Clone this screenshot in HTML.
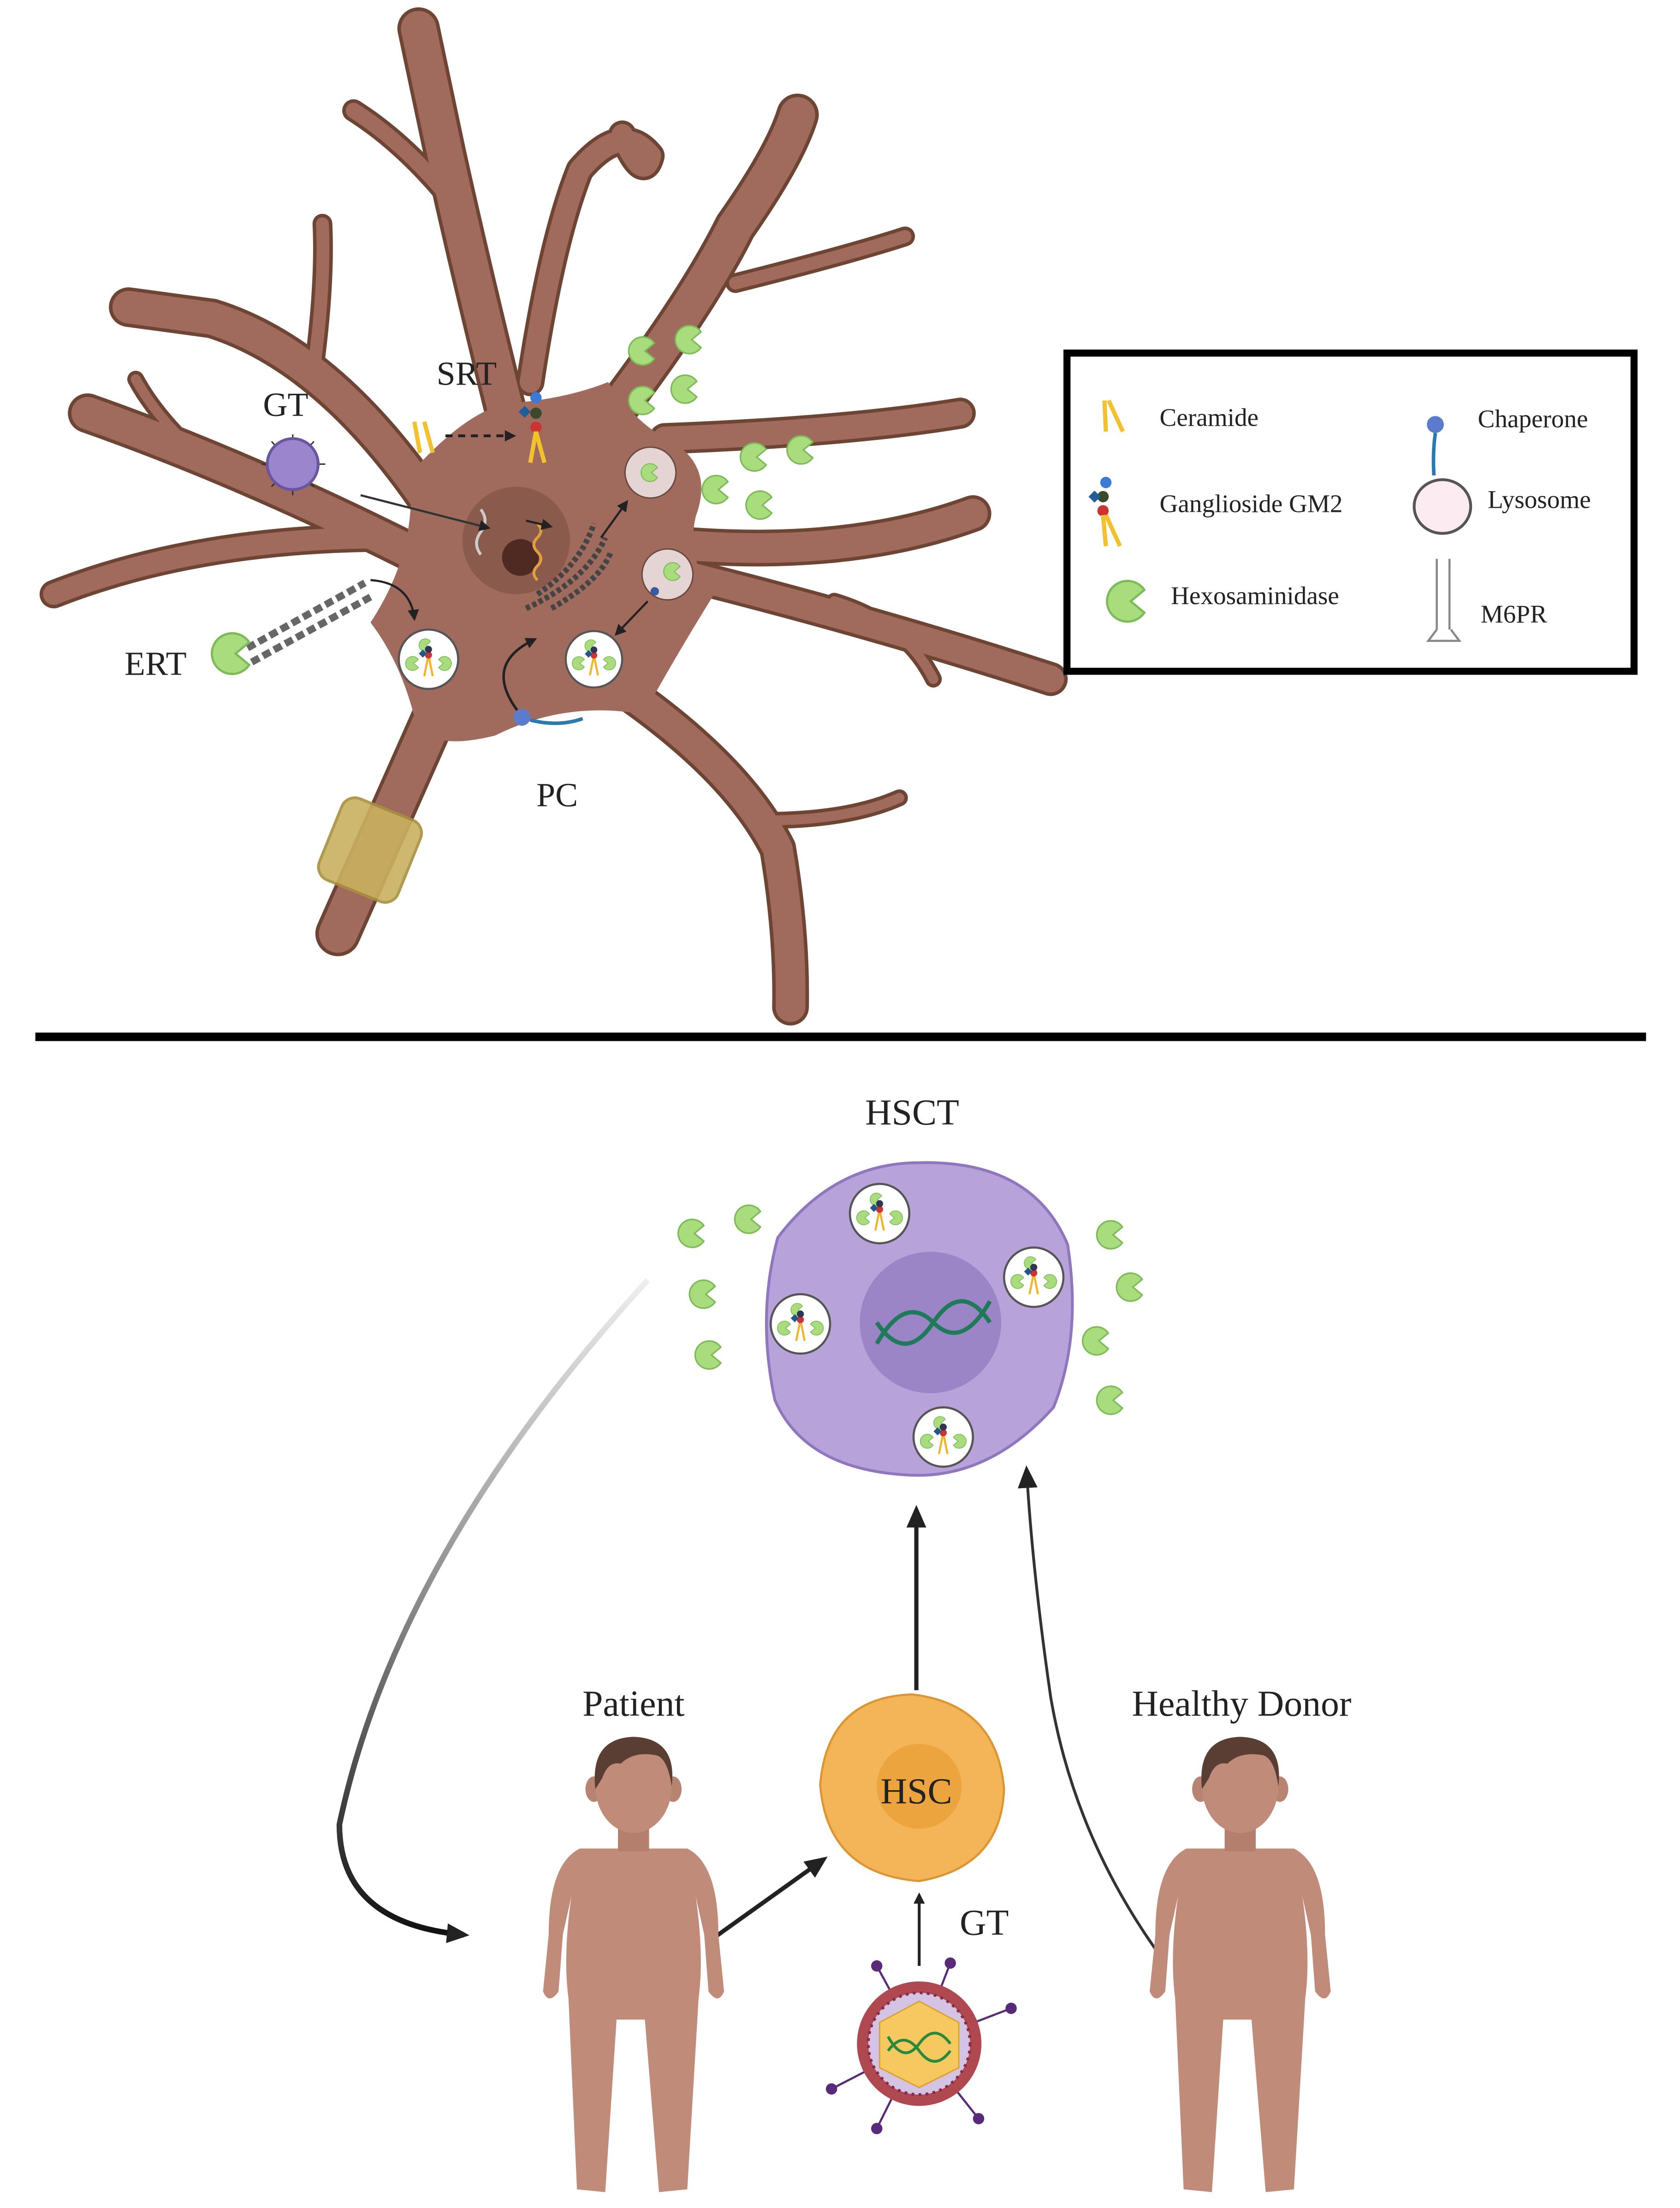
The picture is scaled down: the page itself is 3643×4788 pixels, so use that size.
<!DOCTYPE html>
<html><head><meta charset="utf-8"><style>html,body{margin:0;padding:0;background:#fff}svg{display:block}</style></head>
<body>
<svg width="3643" height="4788" viewBox="0 0 1188 1561" xmlns="http://www.w3.org/2000/svg" font-family="Liberation Serif, serif">
<defs>
<g id="pac"><path d="M7,-5 A9,9 0 1 0 7,5 L1,0 Z" fill="#a9dc7c" stroke="#7dbb58" stroke-width="1"/></g>
<marker id="ah" markerWidth="8" markerHeight="8" refX="6" refY="4" orient="auto" markerUnits="userSpaceOnUse"><path d="M0,0 L8,4 L0,8 Z" fill="#222"/></marker>
<marker id="ahb" markerWidth="16" markerHeight="14" refX="12" refY="7" orient="auto" markerUnits="userSpaceOnUse"><path d="M0,0 L16,7 L0,14 Z" fill="#222"/></marker>
<linearGradient id="gr" x1="0" y1="0" x2="0" y2="1"><stop offset="0" stop-color="#eee"/><stop offset="0.5" stop-color="#888"/><stop offset="1" stop-color="#111"/></linearGradient>
<g id="lyso"><circle r="21" fill="#fff" stroke="#555" stroke-width="1.5"/><use href="#pac" transform="translate(-11,3) scale(0.55)"/><use href="#pac" transform="translate(11,3) scale(-0.55,0.55)"/><use href="#pac" transform="translate(-2,-10) scale(0.5)"/><path d="M0,-3 L-3,12 M0,-3 L3,12" stroke="#f0b530" stroke-width="1.5"/><circle cx="0" cy="-3" r="2.5" fill="#c33"/><circle cx="0" cy="-7" r="2.5" fill="#335"/><rect x="-6" y="-6" width="4" height="4" fill="#258" transform="rotate(45 -4 -4)"/></g>
<g id="baby">
<path d="M-38,44 Q-60,55 -60,105 L-64,145 Q-60,155 -53,145 L-50,105 L-44,78 Q-50,120 -46,150 L-40,285 L-20,287 L-12,165 L-2,165 L8,165 L18,287 L38,285 L46,150 Q50,120 44,78 L50,105 L53,145 Q60,155 64,145 L60,105 Q60,55 38,44 Z" fill="#c08b79"/>
<path d="M-11,28 L-11,46 L11,46 L11,28 Z" fill="#b57f6e"/>
<ellipse cx="-28" cy="2" rx="6" ry="9" fill="#b98372"/><ellipse cx="28" cy="2" rx="6" ry="9" fill="#b98372"/>
<ellipse cx="0" cy="0" rx="27" ry="33" fill="#c08b79"/>
<path d="M-27,2 Q-31,-34 0,-35 Q31,-34 27,0 Q24,-20 16,-22 Q0,-25 -9,-16 Q-18,-18 -22,-6 Z" fill="#5a3e33"/>
</g>
</defs>
<rect width="1188" height="1561" fill="#fff"/>

<!-- neuron -->
<g stroke-linecap="round" stroke-linejoin="round" fill="none">
<g stroke="#6e4535">
<path d="M360,300 Q335,200 315,110 L296,20" stroke-width="30"/>
<path d="M318,140 Q285,100 250,78" stroke-width="16"/>
<path d="M375,270 Q390,170 410,120 Q440,85 460,110 Q455,130 440,95" stroke-width="20"/>
<path d="M300,350 Q230,250 150,225 L91,217" stroke-width="28"/>
<path d="M222,260 Q230,200 228,158" stroke-width="14"/>
<path d="M290,390 Q170,330 62,292" stroke-width="28"/>
<path d="M130,312 Q108,290 96,268" stroke-width="12"/>
<path d="M275,380 Q140,380 38,420" stroke-width="20"/>
<path d="M420,310 Q490,220 520,160 Q555,110 564,81" stroke-width="30"/>
<path d="M520,200 Q600,180 640,167" stroke-width="14"/>
<path d="M470,310 Q600,305 679,292" stroke-width="22"/>
<path d="M480,385 Q600,395 688,363" stroke-width="26"/>
<path d="M480,405 Q620,440 743,480" stroke-width="24"/>
<path d="M590,425 Q640,440 660,480" stroke-width="12"/>
<path d="M430,480 Q520,540 550,600 Q560,660 559,712" stroke-width="26"/>
<path d="M540,580 Q600,580 636,564" stroke-width="12"/>
<path d="M310,500 L239,660" stroke-width="32"/>
</g>
<g stroke="#a06b5c">
<path d="M360,300 Q335,200 315,110 L296,20" stroke-width="25"/>
<path d="M318,140 Q285,100 250,78" stroke-width="11"/>
<path d="M375,270 Q390,170 410,120 Q440,85 460,110 Q455,130 440,95" stroke-width="15"/>
<path d="M300,350 Q230,250 150,225 L91,217" stroke-width="23"/>
<path d="M222,260 Q230,200 228,158" stroke-width="9"/>
<path d="M290,390 Q170,330 62,292" stroke-width="23"/>
<path d="M130,312 Q108,290 96,268" stroke-width="7"/>
<path d="M275,380 Q140,380 38,420" stroke-width="15"/>
<path d="M420,310 Q490,220 520,160 Q555,110 564,81" stroke-width="25"/>
<path d="M520,200 Q600,180 640,167" stroke-width="9"/>
<path d="M470,310 Q600,305 679,292" stroke-width="17"/>
<path d="M480,385 Q600,395 688,363" stroke-width="21"/>
<path d="M480,405 Q620,440 743,480" stroke-width="19"/>
<path d="M590,425 Q640,440 660,480" stroke-width="7"/>
<path d="M430,480 Q520,540 550,600 Q560,660 559,712" stroke-width="21"/>
<path d="M540,580 Q600,580 636,564" stroke-width="7"/>
<path d="M310,500 L239,660" stroke-width="27"/>
</g>
</g>
<path d="M262,440 Q295,390 290,335 Q330,290 360,285 Q400,282 430,270 Q450,300 475,312 Q505,330 492,365 Q485,395 505,420 Q480,460 455,505 Q400,495 350,520 Q310,530 295,515 Q285,470 262,440 Z" fill="#a06b5c"/>
<!-- myelin -->
<g transform="rotate(22 262 600)"><rect x="232" y="570" width="60" height="62" rx="10" fill="#c9b060" stroke="#a8903e" stroke-width="2" opacity="0.9"/></g>
<!-- nucleus -->
<circle cx="365" cy="382" r="38" fill="#8a5a4c"/>
<circle cx="368" cy="394" r="13" fill="#4e2a22"/>
<path d="M380,370 q5,5 0,10 q-5,5 0,10 q5,5 0,10 q-5,5 0,10" stroke="#e1a03c" stroke-width="2" fill="none"/>
<path d="M340,360 q6,8 0,16 q-6,8 0,16" stroke="#ccc" stroke-width="2" fill="none"/>
<path d="M380,420 Q410,400 420,370 M372,430 Q415,410 428,380 M390,430 Q425,410 432,390" stroke="#444" stroke-width="4" stroke-dasharray="3,2" fill="none"/>
<!-- SRT -->
<text x="330" y="272" font-size="24" text-anchor="middle" fill="#222">SRT</text>
<path d="M293,298 l4,22 M300,298 l6,22" stroke="#f2c12e" stroke-width="3"/>
<line x1="315" y1="308" x2="363" y2="308" stroke="#222" stroke-width="2" stroke-dasharray="5,4" marker-end="url(#ah)"/>
<circle cx="379" cy="281" r="4" fill="#3a7bd5"/><circle cx="379" cy="292" r="4" fill="#3a4a2a"/><circle cx="379" cy="302" r="4" fill="#c33"/><rect x="368" y="288" width="6" height="6" fill="#1f5e9a" transform="rotate(45 371 291)"/>
<path d="M379,305 l-4,22 M379,305 l6,22" stroke="#f2c12e" stroke-width="3"/>
<!-- GT virus -->
<text x="202" y="294" font-size="24" text-anchor="middle" fill="#222">GT</text>
<g stroke="#333" stroke-width="1"><line x1="207" y1="307" x2="207" y2="350"/><line x1="185" y1="328" x2="230" y2="328"/><line x1="192" y1="312" x2="222" y2="344"/><line x1="222" y1="312" x2="192" y2="344"/></g>
<circle cx="207" cy="328" r="18" fill="#9a86cc" stroke="#6a56a0" stroke-width="2"/>
<line x1="255" y1="350" x2="345" y2="373" stroke="#333" stroke-width="1.5" marker-end="url(#ah)"/>
<line x1="372" y1="368" x2="389" y2="372" stroke="#222" stroke-width="1.5" marker-end="url(#ah)"/>
<!-- ERT -->
<text x="110" y="477" font-size="24" text-anchor="middle" fill="#222">ERT</text>
<path d="M175,458 L258,412 M178,468 L262,422" stroke="#666" stroke-width="5" stroke-dasharray="6,3"/>
<use href="#pac" transform="translate(165,462) scale(1.6)"/>
<path d="M262,410 Q290,412 293,437" stroke="#222" stroke-width="1.5" fill="none" marker-end="url(#ah)"/>
<use href="#lyso" transform="translate(303,466)"/>
<use href="#lyso" transform="translate(420,466) scale(0.95)"/>
<circle cx="460" cy="334" r="18" fill="#e5d4d4" stroke="#6a4a40"/><use href="#pac" transform="translate(460,334) scale(0.7)"/>
<circle cx="472" cy="406" r="18" fill="#e5d4d4" stroke="#6a4a40"/><use href="#pac" transform="translate(476,404) scale(0.7)"/><circle cx="463" cy="418" r="3" fill="#3a5aa0"/>
<line x1="425" y1="380" x2="443" y2="355" stroke="#222" stroke-width="1.5" marker-end="url(#ah)"/>
<line x1="458" y1="425" x2="436" y2="448" stroke="#222" stroke-width="1.5" marker-end="url(#ah)"/>
<!-- PC -->
<path d="M368,505 Q340,470 378,452" stroke="#222" stroke-width="1.8" fill="none" marker-end="url(#ah)"/>
<circle cx="369" cy="507" r="6" fill="#5b7bcc"/><path d="M375,509 Q395,514 412,508" stroke="#2a7ab0" stroke-width="2.5" fill="none"/>
<text x="394" y="570" font-size="24" text-anchor="middle" fill="#222">PC</text>
<!-- free pacs -->
<use href="#pac" transform="translate(455,248) scale(1.1)"/><use href="#pac" transform="translate(488,240) scale(1.1)"/>
<use href="#pac" transform="translate(455,283) scale(1.1)"/><use href="#pac" transform="translate(485,275) scale(1.1)"/>
<use href="#pac" transform="translate(534,323) scale(1.1)"/><use href="#pac" transform="translate(567,318) scale(1.1)"/>
<use href="#pac" transform="translate(507,346) scale(1.1)"/><use href="#pac" transform="translate(538,357) scale(1.1)"/>

<!-- legend -->
<rect x="754.5" y="249.5" width="401" height="225" fill="#fff" stroke="#000" stroke-width="5"/>
<g font-size="18" fill="#222">
<path d="M781,283 l1,22 M784,283 l10,22" stroke="#f2c12e" stroke-width="3"/>
<text x="820" y="301">Ceramide</text>
<circle cx="1015" cy="300" r="6" fill="#5b7bcc"/><path d="M1015,306 Q1013,320 1014,336" stroke="#2a7ab0" stroke-width="2.5" fill="none"/>
<text x="1045" y="302">Chaperone</text>
<circle cx="782" cy="341" r="4" fill="#3a7bd5"/><circle cx="780" cy="351" r="4" fill="#3a4a2a"/><circle cx="780" cy="361" r="4" fill="#c33"/><rect x="771" y="348" width="6" height="6" fill="#1f5e9a" transform="rotate(45 774 351)"/>
<path d="M780,364 l2,22 M782,364 l10,22" stroke="#f2c12e" stroke-width="3"/>
<text x="820" y="362">Ganglioside GM2</text>
<ellipse cx="1020" cy="358" rx="20" ry="19" fill="#fcebf0" stroke="#555" stroke-width="2"/>
<text x="1052" y="359">Lysosome</text>
<use href="#pac" transform="translate(798,425) scale(1.6)"/>
<text x="828" y="427">Hexosaminidase</text>
<path d="M1016,395 v50 M1025,395 v50 M1016,445 l-6,8 h22 l-6,-8" stroke="#888" stroke-width="1.5" fill="none"/>
<text x="1047" y="440">M6PR</text>
</g>

<!-- divider -->
<rect x="25" y="730" width="1139" height="6" fill="#000"/>

<!-- HSCT -->
<text x="645" y="795" font-size="26" text-anchor="middle" fill="#222">HSCT</text>
<path d="M650,822 Q730,820 755,880 Q765,945 745,995 Q700,1045 645,1043 Q570,1040 548,990 Q535,930 550,875 Q590,822 650,822 Z" fill="#b7a3da" stroke="#8e77be" stroke-width="2"/>
<circle cx="658" cy="935" r="50" fill="#9c85c7"/>
<path d="M620,950 Q640,915 660,935 Q680,955 700,920 M620,935 Q640,965 660,935 Q680,905 700,935" stroke="#1f7a5a" stroke-width="3" fill="none"/>
<use href="#lyso" transform="translate(622,858)"/><use href="#lyso" transform="translate(731,903)"/>
<use href="#lyso" transform="translate(566,936)"/><use href="#lyso" transform="translate(667,1016)"/>
<use href="#pac" transform="translate(490,872) scale(1.1)"/><use href="#pac" transform="translate(530,862) scale(1.1)"/>
<use href="#pac" transform="translate(498,915) scale(1.1)"/><use href="#pac" transform="translate(502,958) scale(1.1)"/>
<use href="#pac" transform="translate(786,873) scale(1.1)"/><use href="#pac" transform="translate(800,910) scale(1.1)"/>
<use href="#pac" transform="translate(776,948) scale(1.1)"/><use href="#pac" transform="translate(786,990) scale(1.1)"/>

<!-- arrows -->
<path d="M458,905 Q280,1100 240,1290 Q240,1360 328,1368" stroke="url(#gr)" stroke-width="4" fill="none" marker-end="url(#ahb)"/>
<line x1="648" y1="1195" x2="648" y2="1068" stroke="#222" stroke-width="3" marker-end="url(#ahb)"/>
<path d="M822,1385 Q760,1300 743,1200 Q730,1110 726,1040" stroke="#333" stroke-width="2" fill="none" marker-end="url(#ahb)"/>
<line x1="505" y1="1370" x2="582" y2="1315" stroke="#222" stroke-width="3" marker-end="url(#ahb)"/>
<line x1="650" y1="1390" x2="650" y2="1340" stroke="#222" stroke-width="2" marker-end="url(#ah)"/>
<text x="696" y="1368" font-size="26" text-anchor="middle" fill="#222">GT</text>

<!-- HSC -->
<path d="M645,1198 Q705,1205 710,1265 Q708,1320 650,1330 Q585,1325 580,1262 Q585,1200 645,1198 Z" fill="#f4b458" stroke="#dc9530" stroke-width="1.5"/>
<circle cx="650" cy="1263" r="30" fill="#eca43f"/>
<text x="648" y="1275" font-size="26" text-anchor="middle" fill="#222">HSC</text>

<!-- virus -->
<g stroke="#5a2a7a" stroke-width="1.5"><line x1="650" y1="1445" x2="620" y2="1390"/><line x1="650" y1="1445" x2="672" y2="1388"/><line x1="650" y1="1445" x2="715" y2="1420"/><line x1="650" y1="1445" x2="588" y2="1477"/><line x1="650" y1="1445" x2="692" y2="1498"/><line x1="650" y1="1445" x2="620" y2="1505"/></g>
<g fill="#5a2a7a"><circle cx="620" cy="1390" r="4"/><circle cx="672" cy="1388" r="4"/><circle cx="715" cy="1420" r="4"/><circle cx="588" cy="1477" r="4"/><circle cx="692" cy="1498" r="4"/><circle cx="620" cy="1505" r="4"/></g>
<circle cx="650" cy="1445" r="44" fill="#b04850"/>
<circle cx="650" cy="1445" r="36" fill="#d4c4e4" stroke="#8a2a4a" stroke-width="2" stroke-dasharray="2,3"/>
<polygon points="650,1415 678,1430 678,1462 650,1476 622,1462 622,1430" fill="#f5c860" stroke="#e0a030"/>
<path d="M628,1450 Q639,1435 650,1450 Q661,1465 672,1450 M628,1440 Q639,1460 650,1445 Q661,1430 672,1445" stroke="#2a8a3a" stroke-width="2" fill="none"/>

<!-- babies -->
<text x="448" y="1213" font-size="26" text-anchor="middle" fill="#222">Patient</text>
<text x="878" y="1213" font-size="26" text-anchor="middle" fill="#222">Healthy Donor</text>
<use href="#baby" transform="translate(448,1263)"/>
<use href="#baby" transform="translate(877,1263)"/>
</svg>
</body></html>
